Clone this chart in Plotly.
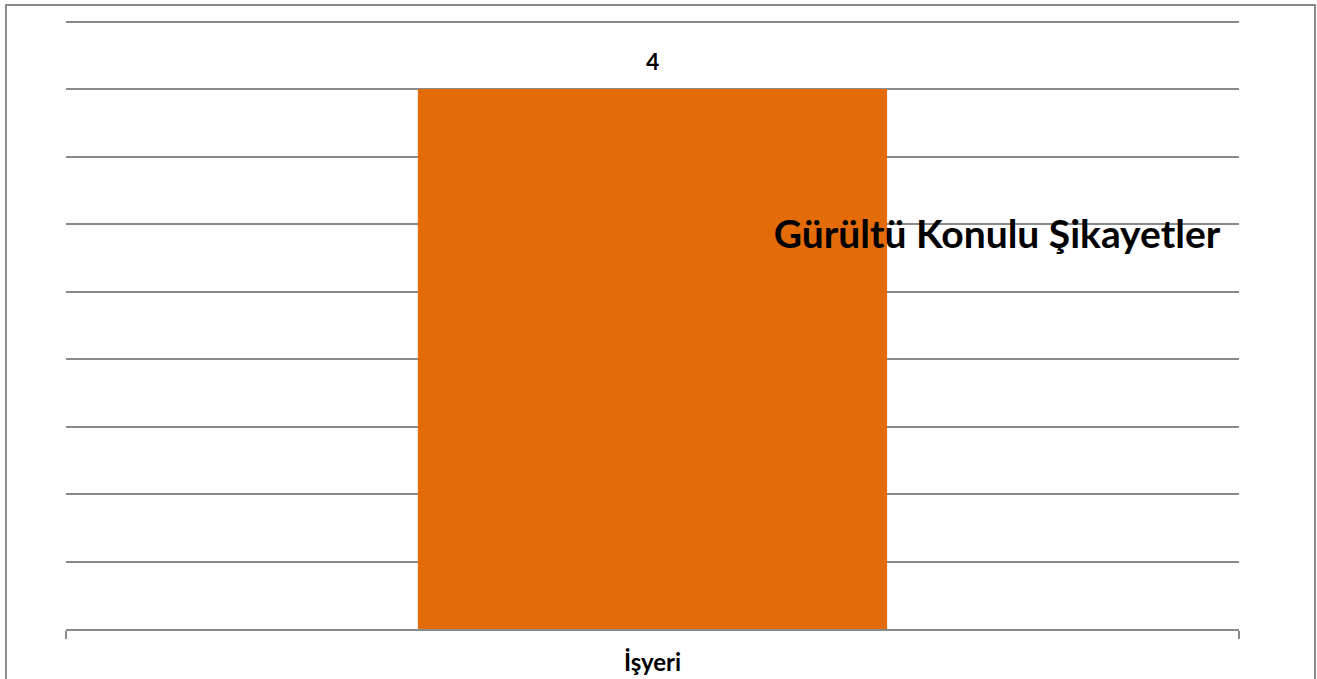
import plotly.graph_objects as go

categories = ['İşyeri']
complaints = [4]
chart_title = 'Gürültü Konulu Şikayetler'

BAR_COLOR = '#e36c09'
LINE_COLOR = '#8a8a8a'
FONT = 'Lato, Carlito, Calibri, sans-serif'

fig = go.Figure(go.Bar(
    x=categories,
    y=complaints,
    marker=dict(color=BAR_COLOR, line=dict(width=0)),
    hoverinfo='x+y',
))

# value labels above the bars
for cat, val in zip(categories, complaints):
    fig.add_annotation(
        x=cat, y=val, text=f'<b>{val}</b>',
        showarrow=False, yanchor='bottom', yshift=12,
        font=dict(family=FONT, size=23, color='#000000'),
    )

# outer frame around the chart
fig.add_shape(
    type='rect', xref='paper', yref='paper',
    x0=-0.0512, x1=1.0648, y0=-0.2, y1=1.0048,
    line=dict(color=LINE_COLOR, width=2),
    layer='above',
)

fig.update_layout(
    width=1317,
    height=679,
    margin=dict(l=66, r=78, t=8, b=50, autoexpand=False),
    plot_bgcolor='#ffffff',
    paper_bgcolor='#ffffff',
    bargap=0.6,
    showlegend=False,
    title=dict(
        text=f'<b>{chart_title}</b>',
        xref='paper', yref='paper',
        x=0.7937, y=0.636,
        xanchor='center', yanchor='middle',
        font=dict(family=FONT, size=39, color='#000000'),
    ),
    xaxis=dict(
        showline=True, linecolor=LINE_COLOR, linewidth=2,
        ticks='outside', tickson='boundaries', ticklen=8,
        tickcolor=LINE_COLOR, tickwidth=2,
        tickfont=dict(family=FONT, size=24, color='#000000'),
        tickprefix='<b>', ticksuffix='</b>',
        ticklabelstandoff=11,
        showgrid=False, automargin=False,
    ),
    yaxis=dict(
        range=[0, 4.6], tick0=0, dtick=0.5,
        showgrid=True, gridcolor=LINE_COLOR, gridwidth=1.5,
        zeroline=False, showticklabels=False, showline=False,
        automargin=False,
    ),
)

# drop the default page margin so the chart sits at the window origin
fig.write_html(
    'out.html',
    config={'displayModeBar': False},
    post_script="document.body.style.margin='0';",
)
